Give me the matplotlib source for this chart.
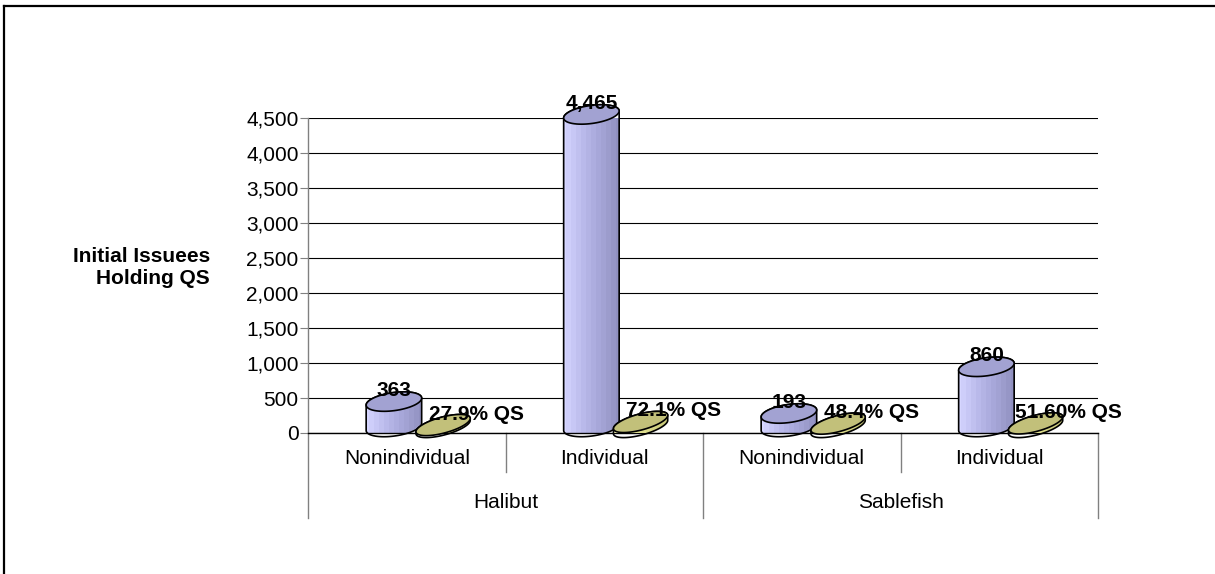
import numpy as np
import matplotlib
matplotlib.use('Agg')
import matplotlib.pyplot as plt
from matplotlib.patches import Polygon
from matplotlib.colors import LinearSegmentedColormap
from matplotlib.lines import Line2D

plt.rcParams['font.family'] = ['Liberation Sans', 'DejaVu Sans']

categories = ['Nonindividual', 'Individual', 'Nonindividual', 'Individual']
groups = ['Halibut', 'Sablefish']
issuees = [363, 4465, 193, 860]
qs_pct = [27.9, 72.1, 48.4, 51.6]
qs_labels = ['27.9% QS', '72.1% QS', '48.4% QS', '51.60% QS']
yticks = list(range(0, 4501, 500))

W, H = 1215, 574
FS = 15
fig = plt.figure(figsize=(W / 100, H / 100), dpi=100)

# plot area in pixels (left, right, zero line, top gridline)
AX_L, AX_R, AX_B, AX_T = 308, 1098, 433, 118
YMAX = 4500
ax = fig.add_axes([AX_L / W, 1 - AX_B / H, (AX_R - AX_L) / W, (AX_B - AX_T) / H])
px_x = (AX_R - AX_L) / len(categories)
px_y = (AX_B - AX_T) / YMAX

purple = LinearSegmentedColormap.from_list(
    'cyl', ['#d6d6ff', '#c8c8f6', '#bcbcec', '#b0b0e2', '#a6a6d8', '#9c9ccc', '#9090c0'])
olive = LinearSegmentedColormap.from_list('disc', ['#f4f4b0', '#e0e090', '#c8c878'])


def ellipse(t, a, b, th):
    ex = a * np.cos(t) * np.cos(th) - b * np.sin(t) * np.sin(th)
    ey = a * np.cos(t) * np.sin(th) + b * np.sin(t) * np.cos(th)
    return ex, ey


def draw_cylinder(ax, xc, value, width, b, tilt, cmap, top_color, z):
    a = width / 2
    th = np.radians(tilt)
    base = 6
    top = base + value * px_y
    t_r = np.arctan(-(b / a) * np.tan(th))
    t_l = t_r + np.pi
    lx, ly = ellipse(np.linspace(t_l, t_r + 2 * np.pi, 80), a, b, th)
    ux, uy = ellipse(np.linspace(t_r, t_l, 80), a, b, th)
    bx = np.concatenate([lx, ux])
    by = np.concatenate([ly + base, uy + top])
    body = Polygon(np.column_stack([xc + bx / px_x, by / px_y]), closed=True,
                   fc='none', ec='black', lw=1.2, zorder=z + 0.2, clip_on=False)
    ax.add_patch(body)
    grad = np.linspace(0, 1, 12).reshape(1, -1)
    im = ax.imshow(grad, cmap=cmap, aspect='auto', interpolation='nearest',
                   extent=[xc - (a + 2) / px_x, xc + (a + 2) / px_x,
                           (base - b - 4) / px_y, (top + b + 4) / px_y],
                   zorder=z)
    im.set_clip_path(body)
    im.set_clip_box(None)
    fx, fy = ellipse(np.linspace(0, 2 * np.pi, 120), a, b, th)
    ax.add_patch(Polygon(np.column_stack([xc + fx / px_x, (fy + top) / px_y]),
                         closed=True, fc=top_color, ec='black', lw=1.2,
                         zorder=z + 0.3, clip_on=False))
    return top


for i, (v, q, ql) in enumerate(zip(issuees, qs_pct, qs_labels)):
    xc = i + 0.435
    xg = i + 0.684
    top = draw_cylinder(ax, xc, v, 56, 9, 8, purple, '#a2a2d2', 2)
    ax.text(xc, (top + 11) / px_y, f'{v:,}', ha='center', va='center',
            fontsize=FS, fontweight='bold', zorder=10, clip_on=False)
    gtop = draw_cylinder(ax, xg, q, 56, 8, 15, olive, '#c2c07a', 4)
    ax.text(xg + 33 / px_x, (gtop + 11) / px_y, ql, ha='center', va='center',
            fontsize=FS, fontweight='bold', zorder=10, clip_on=False)

ax.set_xlim(0, len(categories))
ax.set_ylim(0, YMAX)
ax.set_yticks(yticks)
ax.set_yticklabels([f'{t:,}' for t in yticks], fontsize=FS)
ax.set_xticks([])
ax.tick_params(axis='y', length=5.8, width=0.8, color='#808080', pad=1)
ax.yaxis.grid(True, color='black', lw=0.8)
ax.set_axisbelow(True)
for s in ['top', 'right']:
    ax.spines[s].set_visible(False)
ax.spines['left'].set_color('#808080')
ax.spines['bottom'].set_color('black')
ax.spines['left'].set_linewidth(1)
ax.spines['bottom'].set_linewidth(1)

# category axis: labels and divider lines below the plot
tr = ax.get_xaxis_transform()
y_cat = (AX_B - 458) / (AX_B - AX_T)
y_grp = (AX_B - 503) / (AX_B - AX_T)
y_short = (AX_B - 472) / (AX_B - AX_T)
y_long = (AX_B - 518) / (AX_B - AX_T)
for i, c in enumerate(categories):
    ax.text(i + 0.5, y_cat, c, transform=tr, ha='center', va='center', fontsize=FS)
for g, name in enumerate(groups):
    ax.text(2 * g + 1, y_grp, name, transform=tr, ha='center', va='center', fontsize=FS)
for k in range(len(categories) + 1):
    yb = y_long if k % 2 == 0 else y_short
    ax.plot([k, k], [0, yb], transform=tr, color='#808080', lw=1, clip_on=False)

fig.text(210 / W, 1 - 267 / H, 'Initial Issuees\nHolding QS', ha='right', va='center',
         multialignment='right', fontsize=FS, fontweight='bold')

# outer chart border (top and left edges)
fig.add_artist(Line2D([4 / W, 4 / W], [0, 1 - 6 / H], transform=fig.transFigure,
                      color='black', lw=1.6))
fig.add_artist(Line2D([4 / W, 1], [1 - 6 / H, 1 - 6 / H], transform=fig.transFigure,
                      color='black', lw=1.6))

fig.savefig('out.png', dpi=100)
